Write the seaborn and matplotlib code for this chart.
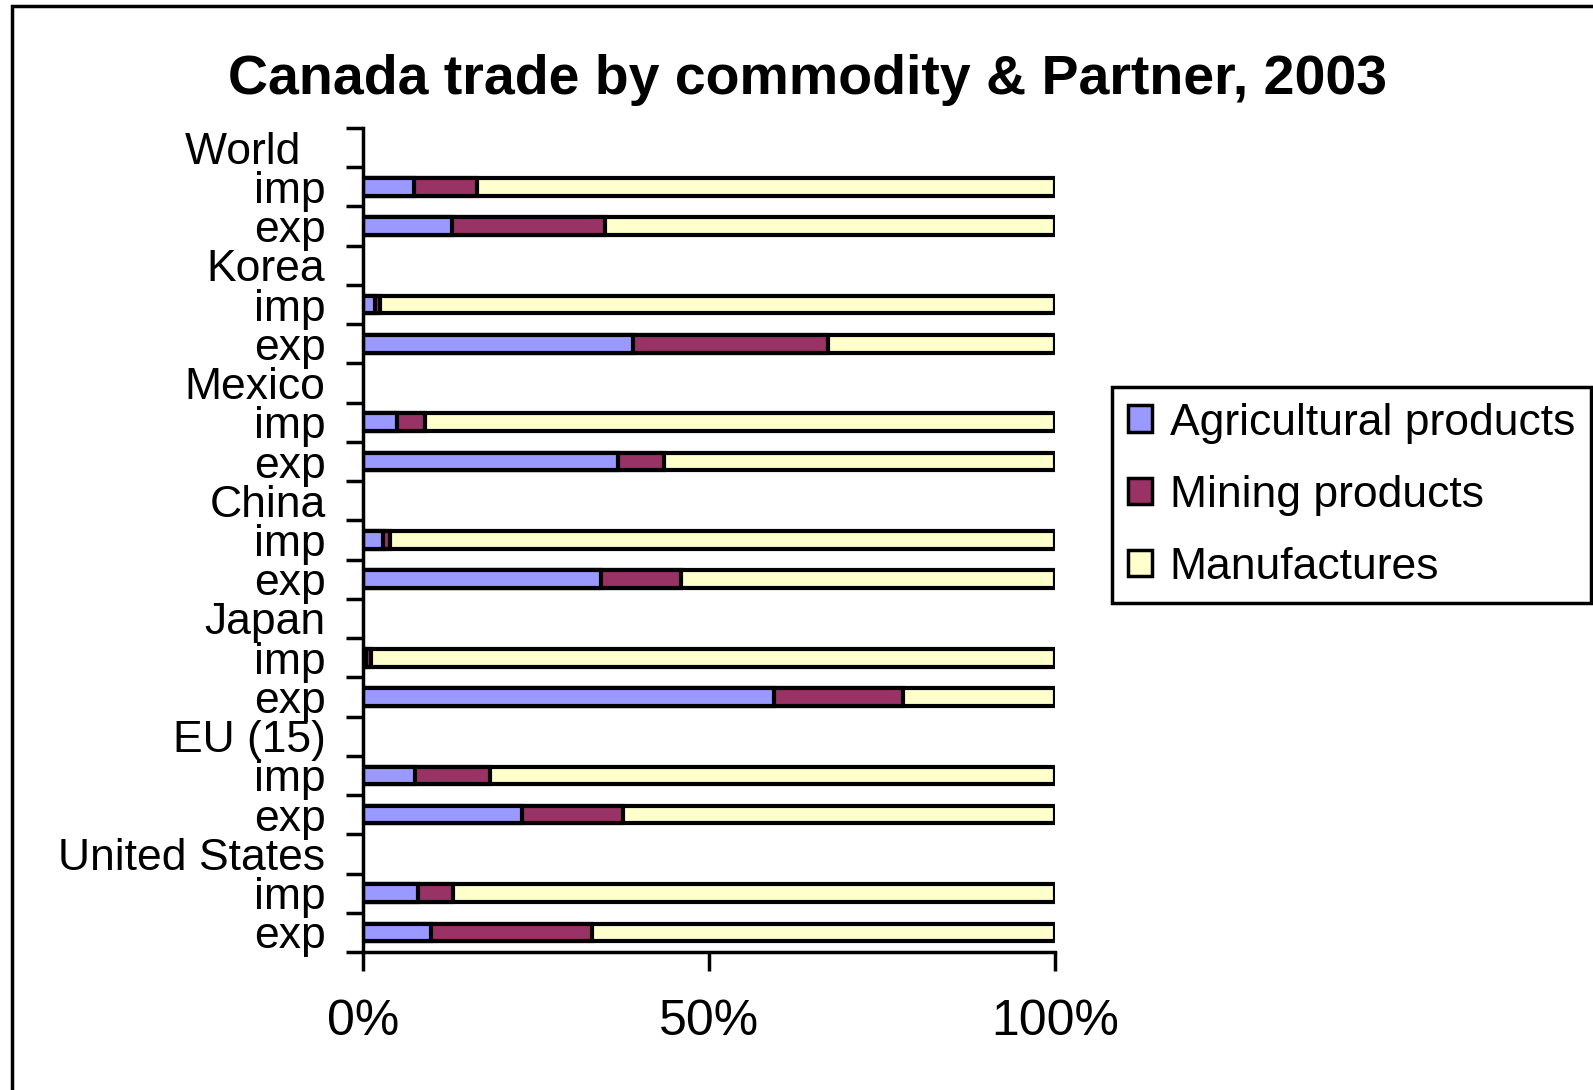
import matplotlib
matplotlib.use("Agg")
import matplotlib.pyplot as plt
import matplotlib.patches as mpatches
import numpy as np
import pandas as pd
import seaborn as sns

partners = ["World", "Korea", "Mexico", "China", "Japan", "EU (15)", "United States"]
flows = ["imp", "exp"]
commodities = ["Agricultural products", "Mining products", "Manufactures"]
colors = ["#9999FF", "#993366", "#FFFFCC"]

# shares in %, order per partner: imp, exp
agri = [7.4, 12.9, 1.8, 39.0, 4.9, 36.9, 2.9, 34.4, 0.4, 59.4, 7.5, 23.0, 7.9, 9.8]
mining = [9.1, 22.1, 0.6, 28.2, 4.1, 6.6, 1.0, 11.6, 0.7, 18.6, 10.9, 14.5, 5.1, 23.3]
manuf = [round(100 - a - m, 1) for a, m in zip(agri, mining)]

# category keys: partner header row followed by imp and exp rows
order = []
labels = []
for p in partners:
    order.append(p)
    labels.append(p + ("  " if p == "World" else ""))
    for f in flows:
        order.append(p + "|" + f)
        labels.append(f)

keys = [p + "|" + f for p in partners for f in flows]
df = pd.DataFrame({"key": keys, "agri": agri, "mining": mining, "manuf": manuf})
df["c1"] = df["agri"]
df["c2"] = df["agri"] + df["mining"]
df["c3"] = df["agri"] + df["mining"] + df["manuf"]

sns.set_style("white")
plt.rcParams["font.family"] = ["Liberation Sans", "DejaVu Sans"]
plt.rcParams["text.color"] = "black"
plt.rcParams["xtick.color"] = "black"
plt.rcParams["ytick.color"] = "black"

fig = plt.figure(figsize=(15.93, 10.9), dpi=100)
ax = fig.add_axes([363 / 1593, 1 - 952 / 1090, 692 / 1593, 824 / 1090])

for col, c in zip(["c3", "c2", "c1"], colors[::-1]):
    sns.barplot(data=df, x=col, y="key", order=order, orient="h", color=c,
                saturation=1, width=0.45, edgecolor="black", linewidth=3, ax=ax)

ax.set_xlim(0, 100)
ax.set_ylim(len(order) - 0.5, -0.5)
ax.set_xlabel("")
ax.set_ylabel("")
ax.set_xticks([0, 50, 100])
ax.set_xticklabels(["0%", "50%", "100%"], fontsize=36)
ax.tick_params(axis="x", bottom=True, length=14, width=2.5, pad=20, direction="out")
ax.set_yticks(range(len(order)))
ax.set_yticklabels(labels, fontsize=32)
ax.tick_params(axis="y", which="major", left=True, length=0, pad=27)
ax.set_yticks(np.arange(-0.5, len(order)), minor=True)
ax.tick_params(axis="y", which="minor", left=True, length=12, width=2.5, direction="out")
for s in ["top", "right"]:
    ax.spines[s].set_visible(False)
for s in ["left", "bottom"]:
    ax.spines[s].set_linewidth(2.5)
    ax.spines[s].set_color("black")

handles = [mpatches.Patch(facecolor=c, edgecolor="black", linewidth=2.5, label=l)
           for c, l in zip(colors, commodities)]
leg = fig.legend(handles=handles, loc="upper left",
                 bbox_to_anchor=(1112 / 1593, 1 - 387 / 1090), fontsize=32,
                 frameon=True, fancybox=False, edgecolor="black", framealpha=1,
                 handlelength=0.55, handleheight=0.55, handletextpad=0.4,
                 labelspacing=0.7, borderpad=0.35, borderaxespad=0)
leg.get_frame().set_linewidth(2.5)

fig.text(808 / 1593, 1 - 80 / 1090, "Canada trade by commodity & Partner, 2003",
         ha="center", va="center", fontsize=40, fontweight="bold")

# outer chart frame
fig.add_artist(mpatches.Rectangle((12 / 1593, -0.1), 2, 1.1 - 6 / 1090,
                                  transform=fig.transFigure, fill=False,
                                  edgecolor="black", linewidth=2.5))

fig.savefig("out.png", dpi=100)
